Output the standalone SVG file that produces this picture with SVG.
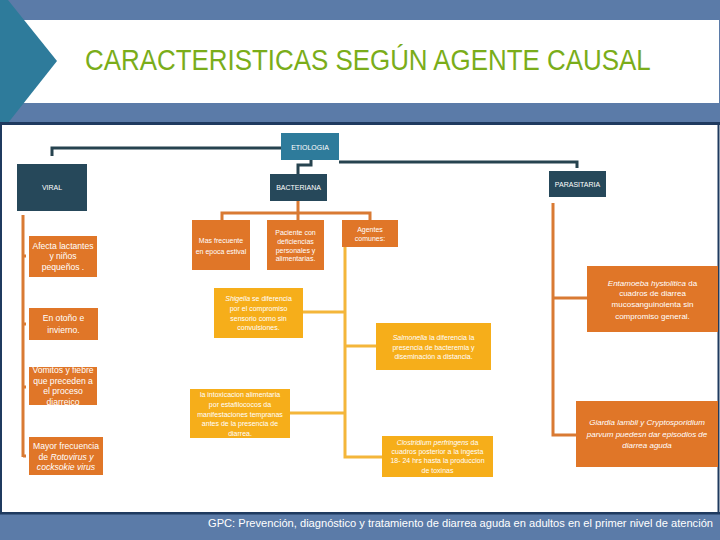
<svg xmlns="http://www.w3.org/2000/svg" width="720" height="540" viewBox="0 0 720 540">
<style>
.t{font-family:"Liberation Sans",Arial,sans-serif;fill:#fff;text-anchor:middle}
.s7{font-size:7px}
.s8{font-size:8px}
.s9{font-size:8.6px}
.dk{fill:#26485a}
.or{fill:#e07628}
.am{fill:#f6ae1a}
.cd{stroke:#26434f;stroke-width:3;fill:none}
.co{stroke:#d97a33;stroke-width:3;fill:none}
.ca{stroke:#f4b63a;stroke-width:3;fill:none}
</style>
<rect x="0" y="0" width="720" height="540" fill="#ffffff"/>
<rect x="0" y="0" width="720" height="123" fill="#5b7ba8"/>
<rect x="20" y="20" width="699" height="83" fill="#ffffff"/>
<polygon points="0,0 8,0 57,61 8,123 0,123" fill="#2e7b9b"/>
<rect x="0" y="122" width="720" height="3" fill="#1f3a5f"/>
<rect x="1" y="124" width="717.5" height="389" fill="#ffffff" stroke="#1f3a5f" stroke-width="2"/>
<rect x="0" y="514" width="720" height="26" fill="#5b7ba8"/>
<rect x="0" y="512" width="720" height="2.5" fill="#1f3a5f"/>
<text transform="translate(85,70) scale(0.864,1)" x="0" y="0" font-family="'Liberation Sans',Arial,sans-serif" font-size="30" fill="#7aad1a">CARACTERISTICAS SEGÚN AGENTE CAUSAL</text>
<text x="208" y="527" font-family="'Liberation Sans',Arial,sans-serif" font-size="11" fill="#ffffff" textLength="505" lengthAdjust="spacingAndGlyphs">GPC: Prevención, diagnóstico y tratamiento  de diarrea  aguda en adultos en el primer nivel de atención</text>

<g id="connectors">
<path class="cd" d="M281,148 H52 V156"/>
<path class="cd" d="M339,162 H577 V168"/>
<path class="cd" d="M311,160 V165 H298 V174"/>
<path class="co" d="M298,201 V213 M222,220 V213 H370 V220 M298,213 V220"/>
<path class="co" d="M23,215 V457 M23,256 H26 M23,324 H26 M23,387 H26 M23,456 H26"/>
<path class="co" d="M553,203 V435 H576 M553,298 H587"/>
<path class="ca" d="M345,247 V457 H382 M345,312 H303 M345,346 H376 M345,413 H290"/>
</g>

<g id="etiologia"><rect x="281" y="133" width="58" height="27" fill="#2e7b9b"/><text class="t s7" x="310" y="149.5">ETIOLOGIA</text></g>
<g id="viral"><rect class="dk" x="17" y="164" width="70" height="47"/><text class="t s7" x="52" y="190">VIRAL</text></g>
<g id="bacteriana"><rect class="dk" x="270" y="174" width="57" height="27"/><text class="t s7" x="298.5" y="190">BACTERIANA</text></g>
<g id="parasitaria"><rect class="dk" x="549" y="171" width="57" height="26"/><text class="t s7" x="577.5" y="187">PARASITARIA</text></g>

<g id="v1"><rect class="or" x="29" y="236" width="68" height="41"/><text class="t s9" x="63" y="249">Afecta lactantes</text><text class="t s9" x="63" y="259">y niños</text><text class="t s9" x="63" y="270">pequeños .</text></g>
<g id="v2"><rect class="or" x="29" y="308" width="69" height="32"/><text class="t s9" x="63.5" y="321">En otoño e</text><text class="t s9" x="63.5" y="333">invierno.</text></g>
<g id="v3"><rect class="or" x="29" y="367" width="68" height="38"/><text class="t s9" x="63" y="373">Vomitos y fiebre</text><text class="t s9" x="63" y="384">que preceden a</text><text class="t s9" x="63" y="394">el proceso</text><text class="t s9" x="63" y="405">diarreico</text></g>
<g id="v4"><rect class="or" x="29" y="437" width="74" height="38"/><text class="t s9" x="66" y="449">Mayor frecuencia</text><text class="t s9" x="66" y="460">de <tspan font-style="italic">Rotovirus y</tspan></text><text class="t s9" x="66" y="470" font-style="italic">cocksokie virus</text></g>

<g id="b1"><rect class="or" x="192" y="220" width="58" height="50"/><text class="t s7" x="221" y="243">Mas frecuente</text><text class="t s7" x="221" y="254">en epoca estival</text></g>
<g id="b2"><rect class="or" x="267" y="220" width="57" height="50"/><text class="t s7" x="295.5" y="235">Paciente con</text><text class="t s7" x="295.5" y="244">deficiencias</text><text class="t s7" x="295.5" y="253">personales y</text><text class="t s7" x="295.5" y="261">alimentarias.</text></g>
<g id="b3"><rect class="or" x="342" y="220" width="56" height="27"/><text class="t s7" x="370" y="231.5">Agentes</text><text class="t s7" x="370" y="240.5">comunes:</text></g>

<g id="shigella"><rect class="am" x="214" y="288" width="89" height="50"/><text class="t s7" x="258.5" y="300.5"><tspan font-style="italic">Shigella</tspan>  se diferencia</text><text class="t s7" x="258.5" y="310.5">por el compromiso</text><text class="t s7" x="258.5" y="320.5">sensorio como sin</text><text class="t s7" x="258.5" y="329.5">convulsiones.</text></g>
<g id="salmonella"><rect class="am" x="376" y="323" width="115" height="47"/><text class="t s7" x="433.5" y="339.5"><tspan font-style="italic">Salmonella</tspan>  la diferencia la</text><text class="t s7" x="433.5" y="349.5">presencia de bacteremia y</text><text class="t s7" x="433.5" y="358.5">diseminación a distancia.</text></g>
<g id="intox"><rect class="am" x="190" y="389" width="100" height="49"/><text class="t s7" x="240" y="396.5">la  intoxicacion alimentaria</text><text class="t s7" x="240" y="406.5">por estafilococos da</text><text class="t s7" x="240" y="416.5">manifestaciones tempranas</text><text class="t s7" x="240" y="425.5">antes de  la presencia de</text><text class="t s7" x="240" y="436">diarrea.</text></g>
<g id="clostridium"><rect class="am" x="382" y="436" width="111" height="41"/><text class="t s7" x="437.5" y="444.5"><tspan font-style="italic">Clostridium perfringens</tspan>  da</text><text class="t s7" x="437.5" y="453.5">cuadros  posterior a la ingesta</text><text class="t s7" x="437.5" y="462.5">18- 24 hrs hasta la produccion</text><text class="t s7" x="437.5" y="473">de toxinas</text></g>

<g id="entamoeba"><rect class="or" x="587" y="266" width="131" height="66"/><text class="t s8" x="652.5" y="286"><tspan font-style="italic">Entamoeba hystolitica</tspan>  da</text><text class="t s8" x="652.5" y="296">cuadros de diarrea</text><text class="t s8" x="652.5" y="307">mucosanguinolenta  sin</text><text class="t s8" x="652.5" y="319">compromiso general.</text></g>
<g id="giardia"><rect class="or" x="576" y="401" width="142" height="66"/><text class="t s8" x="647" y="425" font-style="italic">Giardia lambli y Cryptosporidium</text><text class="t s8" x="647" y="437" font-style="italic">parvum  puedesn dar episodios de</text><text class="t s8" x="647" y="448" font-style="italic">diarrea aguda</text></g>
</svg>
